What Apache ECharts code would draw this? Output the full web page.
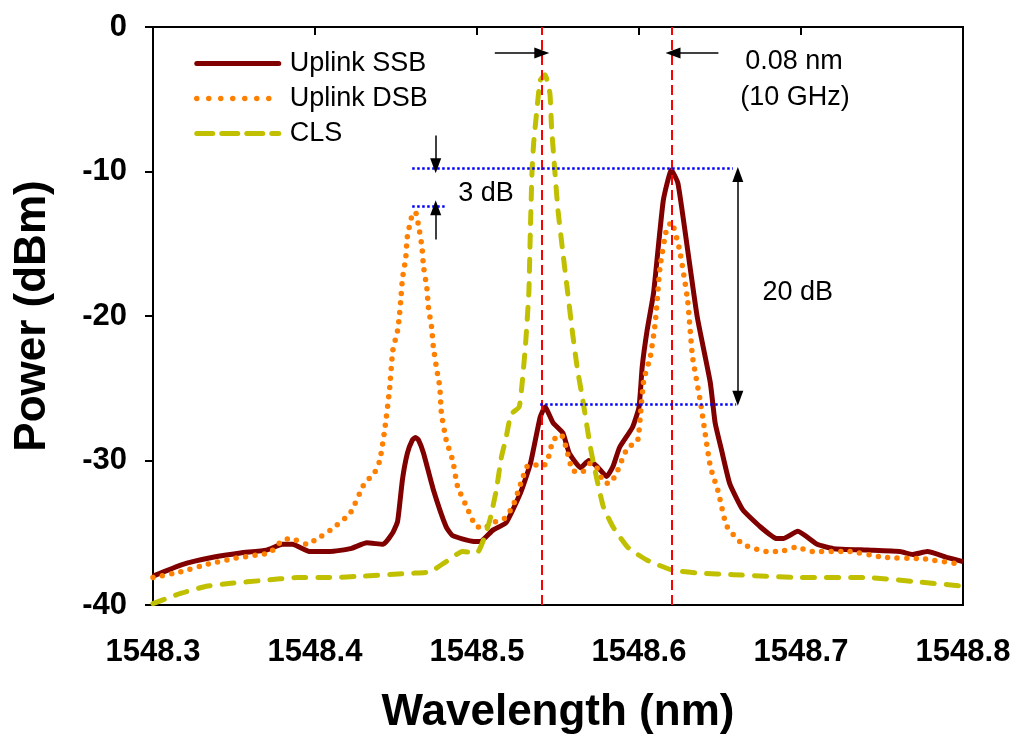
<!DOCTYPE html>
<html>
<head>
<meta charset="utf-8">
<script src="https://cdn.jsdelivr.net/npm/echarts@6/dist/echarts.min.js"></script>
<style>
  html, body { margin: 0; padding: 0; background: #fff; }
  #chart { width: 1024px; height: 749px; }
</style>
</head>
<body>
<div id="chart"></div>
<script>
// wavelength (nm) / power (dBm)
const ssbWl = [1548.300, 1548.318, 1548.337, 1548.354, 1548.370, 1548.380, 1548.386, 1548.397, 1548.409, 1548.422,
  1548.432, 1548.442, 1548.448, 1548.451, 1548.454, 1548.457, 1548.460, 1548.462, 1548.464, 1548.467, 1548.473,
  1548.481, 1548.485, 1548.498, 1548.502, 1548.510, 1548.518, 1548.527, 1548.533, 1548.539, 1548.542, 1548.547,
  1548.553, 1548.557, 1548.564, 1548.569, 1548.574, 1548.580, 1548.584, 1548.588, 1548.596, 1548.600, 1548.602,
  1548.605, 1548.609, 1548.615, 1548.620, 1548.624, 1548.630, 1548.636, 1548.644, 1548.647, 1548.651, 1548.656,
  1548.664, 1548.675, 1548.685, 1548.689, 1548.698, 1548.710, 1548.720, 1548.741, 1548.761, 1548.769, 1548.778,
  1548.790, 1548.800];
const ssbDbm = [-38.0, -37.2, -36.7, -36.4, -36.2, -35.8, -35.8, -36.3, -36.3, -36.1,
  -35.7, -35.8, -35.0, -34.2, -31.3, -29.5, -28.6, -28.4, -28.6, -29.5, -32.0,
  -34.6, -35.2, -35.6, -35.6, -34.8, -34.3, -32.2, -30.2, -27.0, -26.3, -27.4,
  -28.1, -29.5, -30.5, -30.0, -30.4, -31.1, -30.4, -29.1, -27.7, -26.3, -23.5,
  -21.0, -18.4, -12.0, -9.9, -10.8, -15.4, -20.1, -24.6, -27.4, -29.3, -31.6,
  -33.4, -34.6, -35.4, -35.4, -34.9, -35.8, -36.1, -36.2, -36.3, -36.5, -36.3,
  -36.7, -37.0];

const dsbWl = [1548.300, 1548.317, 1548.333, 1548.349, 1548.366, 1548.372, 1548.380, 1548.385, 1548.395, 1548.403,
  1548.411, 1548.422, 1548.430, 1548.437, 1548.440, 1548.443, 1548.446, 1548.448, 1548.451, 1548.452, 1548.453,
  1548.454, 1548.456, 1548.457, 1548.460, 1548.462, 1548.464, 1548.466, 1548.467, 1548.469, 1548.470, 1548.472,
  1548.473, 1548.475, 1548.477, 1548.478, 1548.481, 1548.485, 1548.488, 1548.494, 1548.499, 1548.504, 1548.510,
  1548.517, 1548.522, 1548.527, 1548.531, 1548.536, 1548.541, 1548.544, 1548.547, 1548.552, 1548.555, 1548.559,
  1548.565, 1548.570, 1548.574, 1548.578, 1548.582, 1548.586, 1548.593, 1548.599, 1548.601, 1548.603, 1548.607,
  1548.610, 1548.613, 1548.617, 1548.620, 1548.625, 1548.630, 1548.633, 1548.638, 1548.644, 1548.649, 1548.654,
  1548.664, 1548.679, 1548.687, 1548.697, 1548.707, 1548.730, 1548.751, 1548.775, 1548.800];
const dsbDbm = [-38.1, -37.7, -37.2, -36.8, -36.5, -36.4, -35.5, -35.4, -35.8, -35.3,
  -34.7, -33.6, -31.7, -30.8, -30.0, -27.9, -25.1, -22.4, -21.0, -20.1, -18.8,
  -17.4, -16.0, -14.5, -13.0, -12.8, -13.8, -15.2, -16.6, -18.0, -19.4, -20.8,
  -22.1, -23.6, -24.9, -26.7, -28.6, -30.0, -31.8, -33.3, -34.5, -34.7, -34.3,
  -34.0, -33.2, -31.6, -30.4, -30.3, -30.4, -29.8, -28.6, -28.2, -29.1, -30.7,
  -30.8, -30.2, -30.5, -31.5, -31.6, -30.9, -29.1, -28.7, -26.7, -24.4, -22.8,
  -20.5, -16.6, -14.0, -13.5, -15.4, -18.9, -22.8, -26.0, -30.4, -32.2, -34.5,
  -35.8, -36.3, -36.3, -36.0, -36.3, -36.3, -36.7, -36.8, -37.2];

const clsWl = [1548.300, 1548.317, 1548.333, 1548.348, 1548.368, 1548.389, 1548.409, 1548.430, 1548.460, 1548.471,
  1548.481, 1548.491, 1548.500, 1548.504, 1548.508, 1548.512, 1548.515, 1548.518, 1548.521, 1548.526, 1548.528,
  1548.530, 1548.532, 1548.533, 1548.534, 1548.535, 1548.537, 1548.539, 1548.542, 1548.545, 1548.546, 1548.548,
  1548.550, 1548.553, 1548.556, 1548.559, 1548.562, 1548.565, 1548.570, 1548.574, 1548.578, 1548.584, 1548.593,
  1548.605, 1548.621, 1548.638, 1548.658, 1548.699, 1548.741, 1548.772, 1548.800];
const clsDbm = [-39.9, -39.2, -38.7, -38.5, -38.3, -38.1, -38.1, -38.0, -37.8, -37.7,
  -37.0, -36.3, -36.4, -35.5, -34.1, -32.0, -29.8, -28.4, -26.8, -26.3, -24.5,
  -21.9, -18.4, -13.8, -9.9, -8.0, -5.7, -3.7, -3.3, -4.6, -6.9, -9.9,
  -12.7, -15.6, -18.4, -21.2, -23.7, -25.6, -29.1, -31.3, -33.2, -34.6, -36.0,
  -36.9, -37.6, -37.8, -37.9, -38.1, -38.1, -38.4, -38.7];

const xTicks = [1548.3, 1548.4, 1548.5, 1548.6, 1548.7, 1548.8];
const yTicks = [0, -10, -20, -30, -40];

// annotations
const carrierWl = [1548.541, 1548.620];
const levelLines = [[1548.460, 1548.658, -9.8], [1548.460, 1548.480, -12.4], [1548.539, 1548.660, -26.1]];
const arrows = [
  [[1548.4745, -7.5], [1548.4745, -9.6], false],
  [[1548.4745, -14.7], [1548.4745, -12.5], false],
  [[1548.661, -10.2], [1548.661, -25.7], true],
  [[1548.511, -1.8], [1548.540, -1.8], false],
  [[1548.649, -1.8], [1548.621, -1.8], false]
];
const notes = [
  ['3 dB', 1548.5056, -11.5],
  ['20 dB', 1548.698, -18.4],
  ['0.08 nm', 1548.6957, -2.4],
  ['(10 GHz)', 1548.6963, -4.85]
];

const zip = (xs, ys) => xs.map((x, i) => [x, ys[i]]);
const FONT = "'Liberation Sans', Arial, sans-serif";

const chart = echarts.init(document.getElementById('chart'));

const markLines = [];
carrierWl.forEach(w => markLines.push({
  xAxis: w,
  lineStyle: { color: '#ff0000', width: 2, type: [10, 5] }
}));
levelLines.forEach(l => markLines.push([
  { coord: [l[0], l[2]], lineStyle: { color: '#0000ff', width: 2.5, type: [2.5, 2.5] } },
  { coord: [l[1], l[2]] }
]));
arrows.forEach(a => markLines.push([
  { coord: a[0], symbol: a[2] ? 'triangle' : 'none', symbolSize: [11, 15],
    lineStyle: { color: '#000', width: 1.5, type: 'solid' } },
  { coord: a[1], symbol: 'triangle', symbolSize: [11, 15] }
]));

const legendItem = (name, lineStyle) => ({ name, itemStyle: { opacity: 0 }, lineStyle });

chart.setOption({
  animation: false,
  backgroundColor: '#fff',
  textStyle: { fontFamily: FONT },
  grid: { left: 153, right: 61, top: 27, bottom: 144, show: true, borderColor: '#000', borderWidth: 2 },
  legend: {
    data: [
      legendItem('Uplink SSB', { width: 5, cap: 'round' }),
      legendItem('Uplink DSB', { width: 5.5, cap: 'round', type: [0, 12] }),
      legendItem('CLS', { width: 5, cap: 'round', type: [16, 9] })
    ],
    orient: 'vertical',
    left: 189,
    top: 45,
    itemWidth: 82,
    itemHeight: 14,
    itemGap: 8,
    textStyle: { fontFamily: FONT, fontSize: 27, color: '#000', padding: [0, 0, 0, 6] }
  },
  xAxis: {
    type: 'value',
    min: 1548.3,
    max: 1548.8,
    interval: 0.1,
    name: 'Wavelength (nm)',
    nameLocation: 'middle',
    nameGap: 86,
    nameTextStyle: { fontFamily: FONT, fontSize: 44, fontWeight: 'bold', color: '#000' },
    axisLine: { lineStyle: { color: '#000', width: 2 } },
    axisTick: { length: 8, lineStyle: { color: '#000', width: 2 } },
    axisLabel: {
      margin: 32, fontFamily: FONT, fontSize: 31, fontWeight: 'bold', color: '#000',
      formatter: v => {
        const t = xTicks.find(k => Math.abs(k - v) < 1e-6);
        return t === undefined ? '' : t.toFixed(1);
      }
    },
    splitLine: { show: false }
  },
  yAxis: {
    type: 'value',
    min: -40,
    max: 0,
    interval: 10,
    name: 'Power (dBm)',
    nameLocation: 'middle',
    nameGap: 98,
    nameTextStyle: { fontFamily: FONT, fontSize: 44, fontWeight: 'bold', color: '#000' },
    axisLine: { lineStyle: { color: '#000', width: 2 } },
    axisTick: { length: 8, lineStyle: { color: '#000', width: 2 } },
    axisLabel: {
      margin: 26, fontFamily: FONT, fontSize: 31, fontWeight: 'bold', color: '#000',
      formatter: v => (yTicks.includes(v) ? String(v) : '')
    },
    splitLine: { show: false }
  },
  series: [
    {
      name: 'Uplink SSB', type: 'line', symbol: 'none', smooth: 0.15,
      lineStyle: { color: '#800000', width: 5 },
      itemStyle: { color: '#800000' },
      data: zip(ssbWl, ssbDbm)
    },
    {
      name: 'Uplink DSB', type: 'line', symbol: 'none', smooth: 0.15,
      lineStyle: { color: '#ff8000', width: 5.5, type: [0, 9.5], cap: 'round' },
      itemStyle: { color: '#ff8000' },
      data: zip(dsbWl, dsbDbm)
    },
    {
      name: 'CLS', type: 'line', symbol: 'none', smooth: 0.15,
      lineStyle: { color: '#c0c000', width: 5, type: [12, 12], cap: 'round' },
      itemStyle: { color: '#c0c000' },
      data: zip(clsWl, clsDbm)
    },
    {
      name: 'annotations', type: 'line', data: [], z: 5,
      markLine: {
        silent: true, animation: false,
        symbol: ['none', 'none'],
        label: { show: false },
        data: markLines
      },
      markPoint: {
        silent: true, animation: false,
        symbol: 'circle', symbolSize: 0,
        label: {
          show: true, position: 'inside', fontFamily: FONT, fontSize: 27, color: '#000',
          formatter: p => p.name
        },
        data: notes.map(n => ({ name: n[0], coord: [n[1], n[2]] }))
      }
    }
  ]
});
</script>
</body>
</html>
